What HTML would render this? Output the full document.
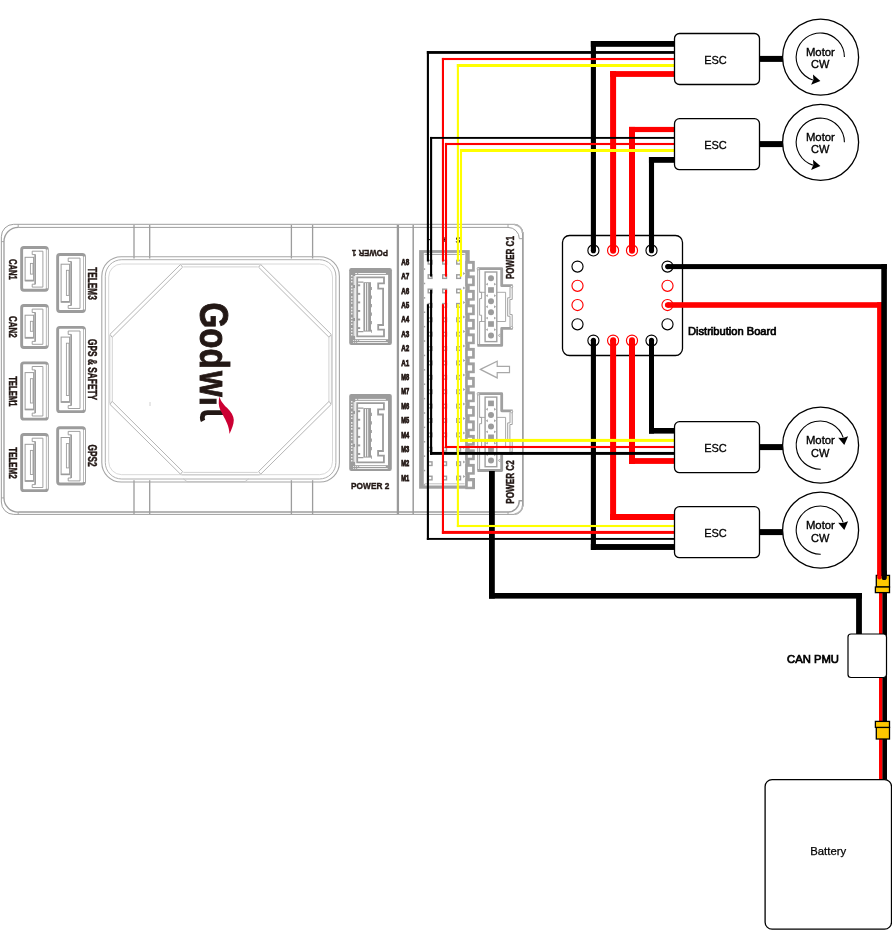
<!DOCTYPE html>
<html><head><meta charset="utf-8"><title>Wiring</title>
<style>html,body{margin:0;padding:0;background:#fff;}svg{display:block;will-change:transform;}text{font-family:"Liberation Sans", sans-serif;}</style></head><body>
<svg width="892" height="950" viewBox="0 0 892 950">
<rect x="0" y="0" width="892" height="950" fill="#fff"/>
<path d="M13.7 224.3 H514.5 A8.8 8.8 0 0 1 522.85 233.1 V505.6 A8.8 8.8 0 0 1 514.5 514.4 H13.7 A12.4 12.4 0 0 1 1.35 502 V236.7 A12.4 12.4 0 0 1 13.7 224.3 Z" fill="none" stroke="#9e9e9e" stroke-width="1.0" />
<path d="M522.85 232 V506.6" fill="none" stroke="#9e9e9e" stroke-width="1.5" />
<path d="M514.5 224.6 A8.6 8.6 0 0 1 522.5 233.1 M514.5 514.1 A8.6 8.6 0 0 0 522.5 505.6" fill="none" stroke="#b4b4b4" stroke-width="1.6" />
<path d="M18.2 227.4 H508 A11.3 11.3 0 0 1 519.3 238.7 H522.85" fill="none" stroke="#9e9e9e" stroke-width="1.0" />
<path d="M18.2 512.1 H508 A11.3 11.3 0 0 0 519.3 500.8 H522.85" fill="none" stroke="#9e9e9e" stroke-width="1.5" />
<path d="M18.2 227.4 A14.2 14.2 0 0 0 4.0 241.6 V497.9 A14.2 14.2 0 0 0 18.2 512.1" fill="none" stroke="#9e9e9e" stroke-width="1.3" />
<path d="M18.2 224.3 V227.4 M1.35 241.6 H4 M508 224.3 V227.4 M18.2 514.4 V512.1 M1.35 497.9 H4 M508 514.4 V512.1" fill="none" stroke="#9e9e9e" stroke-width="0.9" />
<path d="M134 225 V258.6 M134 480.2 V514" fill="none" stroke="#9c9c9c" stroke-width="1.3" />
<path d="M149.7 225 V258.6 M149.7 480.2 V514" fill="none" stroke="#9c9c9c" stroke-width="1.3" />
<path d="M291.4 225 V258.6 M291.4 480.2 V514" fill="none" stroke="#9c9c9c" stroke-width="1.3" />
<path d="M312.6 225 V258.6 M312.6 480.2 V514" fill="none" stroke="#9c9c9c" stroke-width="1.3" />
<path d="M397.9 225 V514" fill="none" stroke="#9a9a9a" stroke-width="2.3" />
<path d="M413.2 225 V514" fill="none" stroke="#9c9c9c" stroke-width="1.5" />
<rect x="101.80" y="256.70" width="237.60" height="225.30" rx="19.5" ry="19.5" fill="none" stroke="#a6a6a6" stroke-width="1.1" />
<rect x="105.30" y="259.70" width="230.60" height="219.30" rx="16.5" ry="16.5" fill="none" stroke="#b0b0b0" stroke-width="1.0" />
<rect x="108.70" y="264.00" width="223.80" height="210.70" rx="13" ry="13" fill="none" stroke="#d4d4d4" stroke-width="0.9" />
<path d="M110.0 334.3 L180.5 264.5" fill="none" stroke="#b6b6b6" stroke-width="1.0" />
<path d="M331.2 334.3 L260.7 264.5" fill="none" stroke="#b6b6b6" stroke-width="1.0" />
<path d="M110.0 404.4 L180.5 474.2" fill="none" stroke="#b6b6b6" stroke-width="1.0" />
<path d="M331.2 404.4 L260.7 474.2" fill="none" stroke="#b6b6b6" stroke-width="1.0" />
<path d="M112.1 337.4 L182.6 267.2" fill="none" stroke="#b6b6b6" stroke-width="1.0" />
<path d="M329.1 337.4 L258.6 267.2" fill="none" stroke="#b6b6b6" stroke-width="1.0" />
<path d="M112.1 401.3 L182.6 471.5" fill="none" stroke="#b6b6b6" stroke-width="1.0" />
<path d="M329.1 401.3 L258.6 471.5" fill="none" stroke="#b6b6b6" stroke-width="1.0" />
<path d="M110.0 334.3 L112.1 337.4 M180.5 264.5 L182.6 267.2" fill="none" stroke="#b6b6b6" stroke-width="1.0" />
<path d="M331.2 334.3 L329.1 337.4 M260.7 264.5 L258.6 267.2" fill="none" stroke="#b6b6b6" stroke-width="1.0" />
<path d="M110.0 404.4 L112.1 401.3 M180.5 474.2 L182.6 471.5" fill="none" stroke="#b6b6b6" stroke-width="1.0" />
<path d="M331.2 404.4 L329.1 401.3 M260.7 474.2 L258.6 471.5" fill="none" stroke="#b6b6b6" stroke-width="1.0" />
<path d="M181.5 264.3 H259.7 M181.5 474.9 H259.7 M109.8 335 V403.7 M331.4 335 V403.7" fill="none" stroke="#c6c6c6" stroke-width="0.9" />
<path d="M183.4 266.9 H257.8 M183.4 472.4 H257.8 M112.3 337.6 V401.1 M328.9 337.6 V401.1" fill="none" stroke="#cdcdcd" stroke-width="0.9" />
<path d="M183.3 478.8 L187 481.6 H245 L248.8 478.8" fill="none" stroke="#c0c0c0" stroke-width="0.8" />
<path d="M150 402 V406" fill="none" stroke="#c4c4c4" stroke-width="0.8" />
<g transform="translate(199.6 303.6) rotate(90)">
<text x="-1.2" y="0" font-size="41" font-weight="bold" fill="#231815" stroke="#231815" stroke-width="0.9" textLength="66.4" lengthAdjust="spacingAndGlyphs">God</text>
<text x="67.4" y="0" font-size="41" font-weight="bold" fill="#231815" stroke="#231815" stroke-width="0.9" textLength="34.8" lengthAdjust="spacingAndGlyphs">w&#305;</text>
</g>
<path d="M223 412.55 H207.6 Q202.3 412.55 202.3 417.4 Q202.3 419.4 203.1 420.9" fill="none" stroke="#231815" stroke-width="4.8"/>
<rect x="216.6" y="398" width="8" height="7.4" fill="#fff"/>
<path d="M219.5 396.4 C220.4 400 222.1 402.9 227 407.8 C231 411.8 233.8 416 233.8 420.1 C233.8 425 231.5 429.5 229.5 434 C229.3 430 228.5 426.5 227 423.2 C225 418.5 221.8 413 220.2 409.7 C218.5 406 218.3 401 219.5 396.4 Z" fill="#cc0033"/>
<rect x="21.65" y="247.55" width="25.70" height="42.70" rx="2.2" ry="2.2" fill="none" stroke="#9c9c9c" stroke-width="2.9" />
<path d="M47.25 249.50 V288.30" fill="none" stroke="#fff" stroke-width="1.3" />
<path d="M32.20 251.20 H42.90 V287.10 H32.20 V284.20 H35.20 V254.60 H32.20 Z" fill="none" stroke="#9c9c9c" stroke-width="0.95" />
<path d="M35.20 254.60 V284.20" fill="none" stroke="#9c9c9c" stroke-width="1.5" />
<rect x="25.10" y="257.30" width="8.50" height="23.50" rx="0" ry="0" fill="#fff" stroke="#9c9c9c" stroke-width="1.0" />
<path d="M25.10 280.50 H33.60" fill="none" stroke="#9c9c9c" stroke-width="1.6" />
<rect x="30.40" y="263.40" width="2.60" height="10.70" rx="0" ry="0" fill="none" stroke="#9c9c9c" stroke-width="0.9" />
<rect x="21.65" y="305.45" width="25.70" height="42.00" rx="2.2" ry="2.2" fill="none" stroke="#9c9c9c" stroke-width="2.9" />
<path d="M47.25 307.40 V345.50" fill="none" stroke="#fff" stroke-width="1.3" />
<path d="M32.20 309.10 H42.90 V344.30 H32.20 V341.40 H35.20 V312.50 H32.20 Z" fill="none" stroke="#9c9c9c" stroke-width="0.95" />
<path d="M35.20 312.50 V341.40" fill="none" stroke="#9c9c9c" stroke-width="1.5" />
<rect x="25.10" y="315.20" width="8.50" height="22.80" rx="0" ry="0" fill="#fff" stroke="#9c9c9c" stroke-width="1.0" />
<path d="M25.10 337.70 H33.60" fill="none" stroke="#9c9c9c" stroke-width="1.6" />
<rect x="30.40" y="321.30" width="2.60" height="10.00" rx="0" ry="0" fill="none" stroke="#9c9c9c" stroke-width="0.9" />
<rect x="21.65" y="362.85" width="25.70" height="56.30" rx="2.2" ry="2.2" fill="none" stroke="#9c9c9c" stroke-width="2.9" />
<path d="M47.25 364.80 V417.20" fill="none" stroke="#fff" stroke-width="1.3" />
<path d="M32.20 366.50 H42.90 V416.00 H32.20 V413.10 H35.20 V369.90 H32.20 Z" fill="none" stroke="#9c9c9c" stroke-width="0.95" />
<path d="M35.20 369.90 V413.10" fill="none" stroke="#9c9c9c" stroke-width="1.5" />
<rect x="25.10" y="372.60" width="8.50" height="37.10" rx="0" ry="0" fill="#fff" stroke="#9c9c9c" stroke-width="1.0" />
<path d="M25.10 409.40 H33.60" fill="none" stroke="#9c9c9c" stroke-width="1.6" />
<rect x="30.40" y="378.70" width="2.60" height="24.30" rx="0" ry="0" fill="none" stroke="#9c9c9c" stroke-width="0.9" />
<rect x="21.65" y="434.55" width="25.70" height="56.10" rx="2.2" ry="2.2" fill="none" stroke="#9c9c9c" stroke-width="2.9" />
<path d="M47.25 436.50 V488.70" fill="none" stroke="#fff" stroke-width="1.3" />
<path d="M32.20 438.20 H42.90 V487.50 H32.20 V484.60 H35.20 V441.60 H32.20 Z" fill="none" stroke="#9c9c9c" stroke-width="0.95" />
<path d="M35.20 441.60 V484.60" fill="none" stroke="#9c9c9c" stroke-width="1.5" />
<rect x="25.10" y="444.30" width="8.50" height="36.90" rx="0" ry="0" fill="#fff" stroke="#9c9c9c" stroke-width="1.0" />
<path d="M25.10 480.90 H33.60" fill="none" stroke="#9c9c9c" stroke-width="1.6" />
<rect x="30.40" y="450.40" width="2.60" height="24.10" rx="0" ry="0" fill="none" stroke="#9c9c9c" stroke-width="0.9" />
<rect x="57.65" y="254.45" width="26.80" height="57.10" rx="2.2" ry="2.2" fill="none" stroke="#9c9c9c" stroke-width="2.9" />
<path d="M84.35 256.40 V309.60" fill="none" stroke="#fff" stroke-width="1.3" />
<path d="M68.20 258.10 H80.00 V308.40 H68.20 V305.50 H71.20 V261.50 H68.20 Z" fill="none" stroke="#9c9c9c" stroke-width="0.95" />
<path d="M71.20 261.50 V305.50" fill="none" stroke="#9c9c9c" stroke-width="1.5" />
<rect x="61.10" y="264.20" width="8.50" height="37.90" rx="0" ry="0" fill="#fff" stroke="#9c9c9c" stroke-width="1.0" />
<path d="M61.10 301.80 H69.60" fill="none" stroke="#9c9c9c" stroke-width="1.6" />
<rect x="66.40" y="270.30" width="2.60" height="25.10" rx="0" ry="0" fill="none" stroke="#9c9c9c" stroke-width="0.9" />
<rect x="57.65" y="327.35" width="26.80" height="84.30" rx="2.2" ry="2.2" fill="none" stroke="#9c9c9c" stroke-width="2.9" />
<path d="M84.35 329.30 V409.70" fill="none" stroke="#fff" stroke-width="1.3" />
<path d="M68.20 331.00 H80.00 V408.50 H68.20 V405.60 H71.20 V334.40 H68.20 Z" fill="none" stroke="#9c9c9c" stroke-width="0.95" />
<path d="M71.20 334.40 V405.60" fill="none" stroke="#9c9c9c" stroke-width="1.5" />
<rect x="61.10" y="337.10" width="8.50" height="65.10" rx="0" ry="0" fill="#fff" stroke="#9c9c9c" stroke-width="1.0" />
<path d="M61.10 401.90 H69.60" fill="none" stroke="#9c9c9c" stroke-width="1.6" />
<rect x="66.40" y="343.20" width="2.60" height="52.30" rx="0" ry="0" fill="none" stroke="#9c9c9c" stroke-width="0.9" />
<rect x="57.65" y="427.75" width="26.80" height="56.30" rx="2.2" ry="2.2" fill="none" stroke="#9c9c9c" stroke-width="2.9" />
<path d="M84.35 429.70 V482.10" fill="none" stroke="#fff" stroke-width="1.3" />
<path d="M68.20 431.40 H80.00 V480.90 H68.20 V478.00 H71.20 V434.80 H68.20 Z" fill="none" stroke="#9c9c9c" stroke-width="0.95" />
<path d="M71.20 434.80 V478.00" fill="none" stroke="#9c9c9c" stroke-width="1.5" />
<rect x="61.10" y="437.50" width="8.50" height="37.10" rx="0" ry="0" fill="#fff" stroke="#9c9c9c" stroke-width="1.0" />
<path d="M61.10 474.30 H69.60" fill="none" stroke="#9c9c9c" stroke-width="1.6" />
<rect x="66.40" y="443.60" width="2.60" height="24.30" rx="0" ry="0" fill="none" stroke="#9c9c9c" stroke-width="0.9" />
<g transform="translate(8.8 269.4) rotate(90)"><text x="0" y="0" font-size="11.2" font-weight="bold" fill="#231815" stroke="#231815" stroke-width="0.45" text-anchor="middle" textLength="21" lengthAdjust="spacingAndGlyphs">CAN1</text></g>
<g transform="translate(8.8 326.8) rotate(90)"><text x="0" y="0" font-size="11.2" font-weight="bold" fill="#231815" stroke="#231815" stroke-width="0.45" text-anchor="middle" textLength="21.5" lengthAdjust="spacingAndGlyphs">CAN2</text></g>
<g transform="translate(8.8 391.4) rotate(90)"><text x="0" y="0" font-size="11.2" font-weight="bold" fill="#231815" stroke="#231815" stroke-width="0.45" text-anchor="middle" textLength="30.5" lengthAdjust="spacingAndGlyphs">TELEM1</text></g>
<g transform="translate(8.8 463) rotate(90)"><text x="0" y="0" font-size="11.2" font-weight="bold" fill="#231815" stroke="#231815" stroke-width="0.45" text-anchor="middle" textLength="31.5" lengthAdjust="spacingAndGlyphs">TELEM2</text></g>
<g transform="translate(88.4 283.5) rotate(90)"><text x="0" y="0" font-size="12.4" font-weight="bold" fill="#231815" stroke="#231815" stroke-width="0.45" text-anchor="middle" textLength="32.6" lengthAdjust="spacingAndGlyphs">TELEM3</text></g>
<g transform="translate(88.4 369.6) rotate(90)"><text x="0" y="0" font-size="12.4" font-weight="bold" fill="#231815" stroke="#231815" stroke-width="0.45" text-anchor="middle" textLength="61" lengthAdjust="spacingAndGlyphs">GPS &amp; SAFETY</text></g>
<g transform="translate(88.4 455.6) rotate(90)"><text x="0" y="0" font-size="12.4" font-weight="bold" fill="#231815" stroke="#231815" stroke-width="0.45" text-anchor="middle" textLength="22" lengthAdjust="spacingAndGlyphs">GPS2</text></g>
<rect x="349.20" y="268.00" width="42.70" height="76.90" rx="2.2" ry="2.2" fill="#9c9c9c"/>
<rect x="355.20" y="274.90" width="32.90" height="64.30" fill="#fff"/>
<path d="M351.80 275.00 V337.90" fill="none" stroke="#fff" stroke-width="1.2" stroke-dasharray="1.6 1.4 1.6 1.4 1.6 3.0"/>
<path d="M354.20 276.00 V335.90" fill="none" stroke="#fff" stroke-width="1.0" stroke-dasharray="9 3 30 3 9 0"/>
<path d="M355.20 273.50 H385.90" fill="none" stroke="#fff" stroke-width="0.9" stroke-dasharray="2 1 28 0"/>
<path d="M353.20 340.50 H385.90" fill="none" stroke="#fff" stroke-width="0.9" stroke-dasharray="1 1 1 1 1 1 28 0"/>
<path d="M353.20 342.50 H387.90" fill="none" stroke="#fff" stroke-width="0.8" stroke-dasharray="1 1 1 1 30 0"/>
<path d="M357.20 277.30 H384.00 V283.40 H378.20 V288.60 H383.10 V325.00 H378.20 V329.70 H384.00 V336.40 H357.20 Z" fill="none" stroke="#9c9c9c" stroke-width="1.8" />
<rect x="363.40" y="282.20" width="7.6" height="49.40" fill="#9c9c9c"/>
<path d="M365.50 283.10 V330.60 M367.70 283.10 V330.60" fill="none" stroke="#fff" stroke-width="0.9" />
<path d="M358.10 282.20 H363.40 M358.10 331.60 H363.40" fill="none" stroke="#9c9c9c" stroke-width="1.2" />
<path d="M357.80 285.30 h2.4" fill="none" stroke="#9c9c9c" stroke-width="1.9" />
<path d="M371.00 288.50 h0.9" fill="none" stroke="#9c9c9c" stroke-width="3.2" />
<path d="M357.80 293.85 h2.4" fill="none" stroke="#9c9c9c" stroke-width="1.9" />
<path d="M371.00 297.05 h0.9" fill="none" stroke="#9c9c9c" stroke-width="3.2" />
<path d="M357.80 302.40 h2.4" fill="none" stroke="#9c9c9c" stroke-width="1.9" />
<path d="M371.00 305.60 h0.9" fill="none" stroke="#9c9c9c" stroke-width="3.2" />
<path d="M357.80 310.95 h2.4" fill="none" stroke="#9c9c9c" stroke-width="1.9" />
<path d="M371.00 314.15 h0.9" fill="none" stroke="#9c9c9c" stroke-width="3.2" />
<path d="M357.80 319.50 h2.4" fill="none" stroke="#9c9c9c" stroke-width="1.9" />
<path d="M371.00 322.70 h0.9" fill="none" stroke="#9c9c9c" stroke-width="3.2" />
<path d="M357.80 328.05 h2.4" fill="none" stroke="#9c9c9c" stroke-width="1.9" />
<path d="M371.00 331.25 h0.9" fill="none" stroke="#9c9c9c" stroke-width="3.2" />
<rect x="349.20" y="393.90" width="42.60" height="77.00" rx="2.2" ry="2.2" fill="#9c9c9c"/>
<rect x="355.20" y="400.80" width="32.80" height="64.40" fill="#fff"/>
<path d="M351.80 400.90 V463.90" fill="none" stroke="#fff" stroke-width="1.2" stroke-dasharray="1.6 1.4 1.6 1.4 1.6 3.0"/>
<path d="M354.20 401.90 V461.90" fill="none" stroke="#fff" stroke-width="1.0" stroke-dasharray="9 3 30 3 9 0"/>
<path d="M355.20 399.40 H385.80" fill="none" stroke="#fff" stroke-width="0.9" stroke-dasharray="2 1 28 0"/>
<path d="M353.20 466.50 H385.80" fill="none" stroke="#fff" stroke-width="0.9" stroke-dasharray="1 1 1 1 1 1 28 0"/>
<path d="M353.20 468.50 H387.80" fill="none" stroke="#fff" stroke-width="0.8" stroke-dasharray="1 1 1 1 30 0"/>
<path d="M357.20 403.20 H383.90 V409.30 H378.10 V414.50 H383.00 V451.00 H378.10 V455.70 H383.90 V462.40 H357.20 Z" fill="none" stroke="#9c9c9c" stroke-width="1.8" />
<rect x="363.40" y="408.10" width="7.6" height="49.50" fill="#9c9c9c"/>
<path d="M365.50 409.00 V456.60 M367.70 409.00 V456.60" fill="none" stroke="#fff" stroke-width="0.9" />
<path d="M358.10 408.10 H363.40 M358.10 457.60 H363.40" fill="none" stroke="#9c9c9c" stroke-width="1.2" />
<path d="M357.80 411.20 h2.4" fill="none" stroke="#9c9c9c" stroke-width="1.9" />
<path d="M371.00 414.40 h0.9" fill="none" stroke="#9c9c9c" stroke-width="3.2" />
<path d="M357.80 419.75 h2.4" fill="none" stroke="#9c9c9c" stroke-width="1.9" />
<path d="M371.00 422.95 h0.9" fill="none" stroke="#9c9c9c" stroke-width="3.2" />
<path d="M357.80 428.30 h2.4" fill="none" stroke="#9c9c9c" stroke-width="1.9" />
<path d="M371.00 431.50 h0.9" fill="none" stroke="#9c9c9c" stroke-width="3.2" />
<path d="M357.80 436.85 h2.4" fill="none" stroke="#9c9c9c" stroke-width="1.9" />
<path d="M371.00 440.05 h0.9" fill="none" stroke="#9c9c9c" stroke-width="3.2" />
<path d="M357.80 445.40 h2.4" fill="none" stroke="#9c9c9c" stroke-width="1.9" />
<path d="M371.00 448.60 h0.9" fill="none" stroke="#9c9c9c" stroke-width="3.2" />
<path d="M357.80 453.95 h2.4" fill="none" stroke="#9c9c9c" stroke-width="1.9" />
<path d="M371.00 457.15 h0.9" fill="none" stroke="#9c9c9c" stroke-width="3.2" />
<g transform="translate(370 253.3) rotate(180)"><text x="0" y="3.3" font-size="9.4" font-weight="bold" fill="#231815" stroke="#231815" stroke-width="0.4" text-anchor="middle" textLength="36" lengthAdjust="spacingAndGlyphs">POWER 1</text></g>
<text x="370.2" y="488.8" font-size="9.6" font-weight="bold" fill="#231815" stroke="#231815" stroke-width="0.4" text-anchor="middle" textLength="38.2" lengthAdjust="spacingAndGlyphs">POWER 2</text>
<text x="405.2" y="264.90" font-size="8.4" font-weight="bold" fill="#231815" text-anchor="middle" textLength="8.0" lengthAdjust="spacingAndGlyphs" stroke="#231815" stroke-width="0.75">A8</text>
<text x="405.2" y="279.29" font-size="8.4" font-weight="bold" fill="#231815" text-anchor="middle" textLength="8.0" lengthAdjust="spacingAndGlyphs" stroke="#231815" stroke-width="0.75">A7</text>
<text x="405.2" y="293.68" font-size="8.4" font-weight="bold" fill="#231815" text-anchor="middle" textLength="8.0" lengthAdjust="spacingAndGlyphs" stroke="#231815" stroke-width="0.75">A6</text>
<text x="405.2" y="308.07" font-size="8.4" font-weight="bold" fill="#231815" text-anchor="middle" textLength="8.0" lengthAdjust="spacingAndGlyphs" stroke="#231815" stroke-width="0.75">A5</text>
<text x="405.2" y="322.46" font-size="8.4" font-weight="bold" fill="#231815" text-anchor="middle" textLength="8.0" lengthAdjust="spacingAndGlyphs" stroke="#231815" stroke-width="0.75">A4</text>
<text x="405.2" y="336.85" font-size="8.4" font-weight="bold" fill="#231815" text-anchor="middle" textLength="8.0" lengthAdjust="spacingAndGlyphs" stroke="#231815" stroke-width="0.75">A3</text>
<text x="405.2" y="351.24" font-size="8.4" font-weight="bold" fill="#231815" text-anchor="middle" textLength="8.0" lengthAdjust="spacingAndGlyphs" stroke="#231815" stroke-width="0.75">A2</text>
<text x="405.2" y="365.63" font-size="8.4" font-weight="bold" fill="#231815" text-anchor="middle" textLength="8.0" lengthAdjust="spacingAndGlyphs" stroke="#231815" stroke-width="0.75">A1</text>
<text x="405.2" y="380.02" font-size="8.4" font-weight="bold" fill="#231815" text-anchor="middle" textLength="8.0" lengthAdjust="spacingAndGlyphs" stroke="#231815" stroke-width="0.75">M8</text>
<text x="405.2" y="394.41" font-size="8.4" font-weight="bold" fill="#231815" text-anchor="middle" textLength="8.0" lengthAdjust="spacingAndGlyphs" stroke="#231815" stroke-width="0.75">M7</text>
<text x="405.2" y="408.80" font-size="8.4" font-weight="bold" fill="#231815" text-anchor="middle" textLength="8.0" lengthAdjust="spacingAndGlyphs" stroke="#231815" stroke-width="0.75">M6</text>
<text x="405.2" y="423.19" font-size="8.4" font-weight="bold" fill="#231815" text-anchor="middle" textLength="8.0" lengthAdjust="spacingAndGlyphs" stroke="#231815" stroke-width="0.75">M5</text>
<text x="405.2" y="437.58" font-size="8.4" font-weight="bold" fill="#231815" text-anchor="middle" textLength="8.0" lengthAdjust="spacingAndGlyphs" stroke="#231815" stroke-width="0.75">M4</text>
<text x="405.2" y="451.97" font-size="8.4" font-weight="bold" fill="#231815" text-anchor="middle" textLength="8.0" lengthAdjust="spacingAndGlyphs" stroke="#231815" stroke-width="0.75">M3</text>
<text x="405.2" y="466.36" font-size="8.4" font-weight="bold" fill="#231815" text-anchor="middle" textLength="8.0" lengthAdjust="spacingAndGlyphs" stroke="#231815" stroke-width="0.75">M2</text>
<text x="405.2" y="480.75" font-size="8.4" font-weight="bold" fill="#231815" text-anchor="middle" textLength="8.0" lengthAdjust="spacingAndGlyphs" stroke="#231815" stroke-width="0.75">M1</text>
<rect x="419.1" y="250.1" width="50.6" height="238.6" fill="#a0a0a0"/>
<rect x="423.8" y="252.9" width="41.5" height="232.6" fill="#fff"/>
<path d="M424.6 254.4 H464.6" fill="none" stroke="#a0a0a0" stroke-width="1.0" />
<path d="M424.6 483.8 H464.6" fill="none" stroke="#b8b8b8" stroke-width="0.9" />
<rect x="469.7" y="478" width="5.3" height="10.7" fill="#a0a0a0"/>
<rect x="465.3" y="260.90" width="9.5" height="10.8" fill="#a0a0a0"/>
<rect x="467.8" y="263.80" width="4.3" height="5.4" fill="#fff"/>
<path d="M465.3 273.50 l-2.2 -1.6 v3.2 Z" fill="#a0a0a0"/>
<rect x="465.3" y="275.40" width="9.5" height="10.8" fill="#a0a0a0"/>
<rect x="467.8" y="278.30" width="4.3" height="5.4" fill="#fff"/>
<path d="M465.3 288.00 l-2.2 -1.6 v3.2 Z" fill="#a0a0a0"/>
<rect x="465.3" y="289.90" width="9.5" height="10.8" fill="#a0a0a0"/>
<rect x="467.8" y="292.80" width="4.3" height="5.4" fill="#fff"/>
<path d="M465.3 302.50 l-2.2 -1.6 v3.2 Z" fill="#a0a0a0"/>
<rect x="465.3" y="304.40" width="9.5" height="10.8" fill="#a0a0a0"/>
<rect x="467.8" y="307.30" width="4.3" height="5.4" fill="#fff"/>
<path d="M465.3 317.00 l-2.2 -1.6 v3.2 Z" fill="#a0a0a0"/>
<rect x="465.3" y="318.90" width="9.5" height="10.8" fill="#a0a0a0"/>
<rect x="467.8" y="321.80" width="4.3" height="5.4" fill="#fff"/>
<path d="M465.3 331.50 l-2.2 -1.6 v3.2 Z" fill="#a0a0a0"/>
<rect x="465.3" y="333.40" width="9.5" height="10.8" fill="#a0a0a0"/>
<rect x="467.8" y="336.30" width="4.3" height="5.4" fill="#fff"/>
<path d="M465.3 346.00 l-2.2 -1.6 v3.2 Z" fill="#a0a0a0"/>
<rect x="465.3" y="347.90" width="9.5" height="10.8" fill="#a0a0a0"/>
<rect x="467.8" y="350.80" width="4.3" height="5.4" fill="#fff"/>
<path d="M465.3 360.50 l-2.2 -1.6 v3.2 Z" fill="#a0a0a0"/>
<rect x="465.3" y="362.40" width="9.5" height="10.8" fill="#a0a0a0"/>
<rect x="467.8" y="365.30" width="4.3" height="5.4" fill="#fff"/>
<path d="M465.3 375.00 l-2.2 -1.6 v3.2 Z" fill="#a0a0a0"/>
<rect x="465.3" y="376.90" width="9.5" height="10.8" fill="#a0a0a0"/>
<rect x="467.8" y="379.80" width="4.3" height="5.4" fill="#fff"/>
<path d="M465.3 389.50 l-2.2 -1.6 v3.2 Z" fill="#a0a0a0"/>
<rect x="465.3" y="391.40" width="9.5" height="10.8" fill="#a0a0a0"/>
<rect x="467.8" y="394.30" width="4.3" height="5.4" fill="#fff"/>
<path d="M465.3 404.00 l-2.2 -1.6 v3.2 Z" fill="#a0a0a0"/>
<rect x="465.3" y="405.90" width="9.5" height="10.8" fill="#a0a0a0"/>
<rect x="467.8" y="408.80" width="4.3" height="5.4" fill="#fff"/>
<path d="M465.3 418.50 l-2.2 -1.6 v3.2 Z" fill="#a0a0a0"/>
<rect x="465.3" y="420.40" width="9.5" height="10.8" fill="#a0a0a0"/>
<rect x="467.8" y="423.30" width="4.3" height="5.4" fill="#fff"/>
<path d="M465.3 433.00 l-2.2 -1.6 v3.2 Z" fill="#a0a0a0"/>
<rect x="465.3" y="434.90" width="9.5" height="10.8" fill="#a0a0a0"/>
<rect x="467.8" y="437.80" width="4.3" height="5.4" fill="#fff"/>
<path d="M465.3 447.50 l-2.2 -1.6 v3.2 Z" fill="#a0a0a0"/>
<rect x="465.3" y="449.40" width="9.5" height="10.8" fill="#a0a0a0"/>
<rect x="467.8" y="452.30" width="4.3" height="5.4" fill="#fff"/>
<path d="M465.3 462.00 l-2.2 -1.6 v3.2 Z" fill="#a0a0a0"/>
<rect x="465.3" y="463.90" width="9.5" height="10.8" fill="#a0a0a0"/>
<rect x="467.8" y="466.80" width="4.3" height="5.4" fill="#fff"/>
<path d="M465.3 476.50 l-2.2 -1.6 v3.2 Z" fill="#a0a0a0"/>
<rect x="465.3" y="478.40" width="9.5" height="10.8" fill="#a0a0a0"/>
<rect x="467.8" y="481.30" width="4.3" height="5.4" fill="#fff"/>
<rect x="428.20" y="260.40" width="3.80" height="3.60" rx="0" ry="0" fill="#fff" stroke="#9e9e9e" stroke-width="1.4" />
<rect x="442.70" y="260.40" width="3.80" height="3.60" rx="0" ry="0" fill="#fff" stroke="#9e9e9e" stroke-width="1.4" />
<rect x="456.70" y="260.40" width="3.80" height="3.60" rx="0" ry="0" fill="#fff" stroke="#9e9e9e" stroke-width="1.4" />
<path d="M423.8 269.10 h1.4" fill="none" stroke="#a0a0a0" stroke-width="1.5" />
<rect x="428.20" y="274.79" width="3.80" height="3.60" rx="0" ry="0" fill="#fff" stroke="#9e9e9e" stroke-width="1.4" />
<rect x="442.70" y="274.79" width="3.80" height="3.60" rx="0" ry="0" fill="#fff" stroke="#9e9e9e" stroke-width="1.4" />
<rect x="456.70" y="274.79" width="3.80" height="3.60" rx="0" ry="0" fill="#fff" stroke="#9e9e9e" stroke-width="1.4" />
<path d="M423.8 283.49 h1.4" fill="none" stroke="#a0a0a0" stroke-width="1.5" />
<rect x="428.20" y="289.18" width="3.80" height="3.60" rx="0" ry="0" fill="#fff" stroke="#9e9e9e" stroke-width="1.4" />
<rect x="442.70" y="289.18" width="3.80" height="3.60" rx="0" ry="0" fill="#fff" stroke="#9e9e9e" stroke-width="1.4" />
<rect x="456.70" y="289.18" width="3.80" height="3.60" rx="0" ry="0" fill="#fff" stroke="#9e9e9e" stroke-width="1.4" />
<path d="M423.8 297.88 h1.4" fill="none" stroke="#a0a0a0" stroke-width="1.5" />
<rect x="428.20" y="303.57" width="3.80" height="3.60" rx="0" ry="0" fill="#fff" stroke="#9e9e9e" stroke-width="1.4" />
<rect x="442.70" y="303.57" width="3.80" height="3.60" rx="0" ry="0" fill="#fff" stroke="#9e9e9e" stroke-width="1.4" />
<rect x="456.70" y="303.57" width="3.80" height="3.60" rx="0" ry="0" fill="#fff" stroke="#9e9e9e" stroke-width="1.4" />
<path d="M423.8 312.27 h1.4" fill="none" stroke="#a0a0a0" stroke-width="1.5" />
<rect x="428.20" y="317.96" width="3.80" height="3.60" rx="0" ry="0" fill="#fff" stroke="#9e9e9e" stroke-width="1.4" />
<rect x="442.70" y="317.96" width="3.80" height="3.60" rx="0" ry="0" fill="#fff" stroke="#9e9e9e" stroke-width="1.4" />
<rect x="456.70" y="317.96" width="3.80" height="3.60" rx="0" ry="0" fill="#fff" stroke="#9e9e9e" stroke-width="1.4" />
<path d="M423.8 326.66 h1.4" fill="none" stroke="#a0a0a0" stroke-width="1.5" />
<rect x="428.20" y="332.35" width="3.80" height="3.60" rx="0" ry="0" fill="#fff" stroke="#9e9e9e" stroke-width="1.4" />
<rect x="442.70" y="332.35" width="3.80" height="3.60" rx="0" ry="0" fill="#fff" stroke="#9e9e9e" stroke-width="1.4" />
<rect x="456.70" y="332.35" width="3.80" height="3.60" rx="0" ry="0" fill="#fff" stroke="#9e9e9e" stroke-width="1.4" />
<path d="M423.8 341.05 h1.4" fill="none" stroke="#a0a0a0" stroke-width="1.5" />
<rect x="428.20" y="346.74" width="3.80" height="3.60" rx="0" ry="0" fill="#fff" stroke="#9e9e9e" stroke-width="1.4" />
<rect x="442.70" y="346.74" width="3.80" height="3.60" rx="0" ry="0" fill="#fff" stroke="#9e9e9e" stroke-width="1.4" />
<rect x="456.70" y="346.74" width="3.80" height="3.60" rx="0" ry="0" fill="#fff" stroke="#9e9e9e" stroke-width="1.4" />
<path d="M423.8 355.44 h1.4" fill="none" stroke="#a0a0a0" stroke-width="1.5" />
<rect x="428.20" y="361.13" width="3.80" height="3.60" rx="0" ry="0" fill="#fff" stroke="#9e9e9e" stroke-width="1.4" />
<rect x="442.70" y="361.13" width="3.80" height="3.60" rx="0" ry="0" fill="#fff" stroke="#9e9e9e" stroke-width="1.4" />
<rect x="456.70" y="361.13" width="3.80" height="3.60" rx="0" ry="0" fill="#fff" stroke="#9e9e9e" stroke-width="1.4" />
<path d="M423.8 369.83 h1.4" fill="none" stroke="#a0a0a0" stroke-width="1.5" />
<rect x="428.20" y="375.52" width="3.80" height="3.60" rx="0" ry="0" fill="#fff" stroke="#9e9e9e" stroke-width="1.4" />
<rect x="442.70" y="375.52" width="3.80" height="3.60" rx="0" ry="0" fill="#fff" stroke="#9e9e9e" stroke-width="1.4" />
<rect x="456.70" y="375.52" width="3.80" height="3.60" rx="0" ry="0" fill="#fff" stroke="#9e9e9e" stroke-width="1.4" />
<path d="M423.8 384.22 h1.4" fill="none" stroke="#a0a0a0" stroke-width="1.5" />
<rect x="428.20" y="389.91" width="3.80" height="3.60" rx="0" ry="0" fill="#fff" stroke="#9e9e9e" stroke-width="1.4" />
<rect x="442.70" y="389.91" width="3.80" height="3.60" rx="0" ry="0" fill="#fff" stroke="#9e9e9e" stroke-width="1.4" />
<rect x="456.70" y="389.91" width="3.80" height="3.60" rx="0" ry="0" fill="#fff" stroke="#9e9e9e" stroke-width="1.4" />
<path d="M423.8 398.61 h1.4" fill="none" stroke="#a0a0a0" stroke-width="1.5" />
<rect x="428.20" y="404.30" width="3.80" height="3.60" rx="0" ry="0" fill="#fff" stroke="#9e9e9e" stroke-width="1.4" />
<rect x="442.70" y="404.30" width="3.80" height="3.60" rx="0" ry="0" fill="#fff" stroke="#9e9e9e" stroke-width="1.4" />
<rect x="456.70" y="404.30" width="3.80" height="3.60" rx="0" ry="0" fill="#fff" stroke="#9e9e9e" stroke-width="1.4" />
<path d="M423.8 413.00 h1.4" fill="none" stroke="#a0a0a0" stroke-width="1.5" />
<rect x="428.20" y="418.69" width="3.80" height="3.60" rx="0" ry="0" fill="#fff" stroke="#9e9e9e" stroke-width="1.4" />
<rect x="442.70" y="418.69" width="3.80" height="3.60" rx="0" ry="0" fill="#fff" stroke="#9e9e9e" stroke-width="1.4" />
<rect x="456.70" y="418.69" width="3.80" height="3.60" rx="0" ry="0" fill="#fff" stroke="#9e9e9e" stroke-width="1.4" />
<path d="M423.8 427.39 h1.4" fill="none" stroke="#a0a0a0" stroke-width="1.5" />
<rect x="428.20" y="433.08" width="3.80" height="3.60" rx="0" ry="0" fill="#fff" stroke="#9e9e9e" stroke-width="1.4" />
<rect x="442.70" y="433.08" width="3.80" height="3.60" rx="0" ry="0" fill="#fff" stroke="#9e9e9e" stroke-width="1.4" />
<rect x="456.70" y="433.08" width="3.80" height="3.60" rx="0" ry="0" fill="#fff" stroke="#9e9e9e" stroke-width="1.4" />
<path d="M423.8 441.78 h1.4" fill="none" stroke="#a0a0a0" stroke-width="1.5" />
<rect x="428.20" y="447.47" width="3.80" height="3.60" rx="0" ry="0" fill="#fff" stroke="#9e9e9e" stroke-width="1.4" />
<rect x="442.70" y="447.47" width="3.80" height="3.60" rx="0" ry="0" fill="#fff" stroke="#9e9e9e" stroke-width="1.4" />
<rect x="456.70" y="447.47" width="3.80" height="3.60" rx="0" ry="0" fill="#fff" stroke="#9e9e9e" stroke-width="1.4" />
<path d="M423.8 456.17 h1.4" fill="none" stroke="#a0a0a0" stroke-width="1.5" />
<rect x="428.20" y="461.86" width="3.80" height="3.60" rx="0" ry="0" fill="#fff" stroke="#9e9e9e" stroke-width="1.4" />
<rect x="442.70" y="461.86" width="3.80" height="3.60" rx="0" ry="0" fill="#fff" stroke="#9e9e9e" stroke-width="1.4" />
<rect x="456.70" y="461.86" width="3.80" height="3.60" rx="0" ry="0" fill="#fff" stroke="#9e9e9e" stroke-width="1.4" />
<path d="M423.8 470.56 h1.4" fill="none" stroke="#a0a0a0" stroke-width="1.5" />
<rect x="428.20" y="476.25" width="3.80" height="3.60" rx="0" ry="0" fill="#fff" stroke="#9e9e9e" stroke-width="1.4" />
<rect x="442.70" y="476.25" width="3.80" height="3.60" rx="0" ry="0" fill="#fff" stroke="#9e9e9e" stroke-width="1.4" />
<rect x="456.70" y="476.25" width="3.80" height="3.60" rx="0" ry="0" fill="#fff" stroke="#9e9e9e" stroke-width="1.4" />
<path d="M423.8 484.95 h1.4" fill="none" stroke="#a0a0a0" stroke-width="1.5" />
<text x="429.6" y="242.4" font-size="9.6" font-weight="bold" fill="#231815" text-anchor="middle">-</text>
<text x="444.4" y="242.8" font-size="9.6" font-weight="bold" fill="#231815" text-anchor="middle" textLength="4.6" lengthAdjust="spacingAndGlyphs">+</text>
<text x="458.0" y="242.8" font-size="9.6" font-weight="bold" fill="#231815" text-anchor="middle" textLength="5.0" lengthAdjust="spacingAndGlyphs">S</text>
<g transform="translate(0 267.2)">
<path d="M477.7 1.4 H501.7 V18.5 H512.2 V61.6 H501.7 V78.2 H477.7 Z" fill="#fff" stroke="none"/>
<path d="M477.7 1.4 V78.2 M479.6 2.8 V25.1 H481.6 V31.4 H479.6 V48 H481.6 V54.3 H479.6 V76.8" fill="none" stroke="#a0a0a0" stroke-width="1.0"/>
<path d="M512.2 18.5 V32.2 H509.9 V47.4 H512.2 V61.6 M510 20 V30.6 H507.7 V49 H510 V60.2" fill="none" stroke="#a0a0a0" stroke-width="1.0"/>
<path d="M477.4 1.4 H501.7 V18.5 H512.7" fill="none" stroke="#a0a0a0" stroke-width="2.8" stroke-linejoin="round"/>
<path d="M512.7 61.2 H501.7 V78.2 H477.4" fill="none" stroke="#a0a0a0" stroke-width="2.8" stroke-linejoin="round"/>
<circle cx="478.2" cy="1.6" r="1.1" fill="#fff" stroke="#a0a0a0" stroke-width="0.8"/>
<circle cx="511.6" cy="19.4" r="1.1" fill="#fff" stroke="#a0a0a0" stroke-width="0.8"/>
<circle cx="511.6" cy="60.4" r="1.1" fill="#fff" stroke="#a0a0a0" stroke-width="0.8"/>
<path d="M479.6 25.1 H505.6 V54.3 H479.6" fill="none" stroke="#a0a0a0" stroke-width="0.9"/>
<rect x="485.1" y="4.8" width="11.7" height="69.6" fill="#fff" stroke="#a0a0a0" stroke-width="1.4"/>
<circle cx="491.0" cy="11.10" r="3.0" fill="#9c9c9c"/>
<path d="M485.8 16.95 l2 -1.4 v2.8 Z M496.1 16.95 l-2 -1.4 v2.8 Z" fill="#a0a0a0"/>
<rect x="488.1" y="20.00" width="5.8" height="5.6" fill="#9c9c9c"/>
<path d="M485.8 28.45 l2 -1.4 v2.8 Z M496.1 28.45 l-2 -1.4 v2.8 Z" fill="#a0a0a0"/>
<circle cx="491.0" cy="34.10" r="3.0" fill="#9c9c9c"/>
<path d="M485.8 39.55 l2 -1.4 v2.8 Z M496.1 39.55 l-2 -1.4 v2.8 Z" fill="#a0a0a0"/>
<circle cx="491.0" cy="45.00" r="3.0" fill="#9c9c9c"/>
<path d="M485.8 50.90 l2 -1.4 v2.8 Z M496.1 50.90 l-2 -1.4 v2.8 Z" fill="#a0a0a0"/>
<rect x="488.1" y="54.00" width="5.8" height="5.6" fill="#9c9c9c"/>
<path d="M485.8 62.50 l2 -1.4 v2.8 Z M496.1 62.50 l-2 -1.4 v2.8 Z" fill="#a0a0a0"/>
<circle cx="491.0" cy="68.20" r="3.0" fill="#9c9c9c"/>
<path d="M498.2 68.2 l2 -1.5 v3 Z" fill="#fff" stroke="#a0a0a0" stroke-width="0.7"/>
</g>
<g transform="translate(0 392.3)">
<path d="M477.7 1.4 H501.7 V18.5 H512.2 V61.6 H501.7 V78.2 H477.7 Z" fill="#fff" stroke="none"/>
<path d="M477.7 1.4 V78.2 M479.6 2.8 V25.1 H481.6 V31.4 H479.6 V48 H481.6 V54.3 H479.6 V76.8" fill="none" stroke="#a0a0a0" stroke-width="1.0"/>
<path d="M512.2 18.5 V32.2 H509.9 V47.4 H512.2 V61.6 M510 20 V30.6 H507.7 V49 H510 V60.2" fill="none" stroke="#a0a0a0" stroke-width="1.0"/>
<path d="M477.4 1.4 H501.7 V18.5 H512.7" fill="none" stroke="#a0a0a0" stroke-width="2.8" stroke-linejoin="round"/>
<path d="M512.7 61.2 H501.7 V78.2 H477.4" fill="none" stroke="#a0a0a0" stroke-width="2.8" stroke-linejoin="round"/>
<circle cx="478.2" cy="1.6" r="1.1" fill="#fff" stroke="#a0a0a0" stroke-width="0.8"/>
<circle cx="511.6" cy="19.4" r="1.1" fill="#fff" stroke="#a0a0a0" stroke-width="0.8"/>
<circle cx="511.6" cy="60.4" r="1.1" fill="#fff" stroke="#a0a0a0" stroke-width="0.8"/>
<path d="M479.6 25.1 H505.6 V54.3 H479.6" fill="none" stroke="#a0a0a0" stroke-width="0.9"/>
<rect x="485.1" y="4.8" width="11.7" height="69.6" fill="#fff" stroke="#a0a0a0" stroke-width="1.4"/>
<rect x="488.1" y="8.30" width="5.8" height="5.6" fill="#9c9c9c"/>
<path d="M485.8 16.95 l2 -1.4 v2.8 Z M496.1 16.95 l-2 -1.4 v2.8 Z" fill="#a0a0a0"/>
<circle cx="491.0" cy="22.80" r="3.0" fill="#9c9c9c"/>
<path d="M485.8 28.45 l2 -1.4 v2.8 Z M496.1 28.45 l-2 -1.4 v2.8 Z" fill="#a0a0a0"/>
<circle cx="491.0" cy="34.10" r="3.0" fill="#9c9c9c"/>
<path d="M485.8 39.55 l2 -1.4 v2.8 Z M496.1 39.55 l-2 -1.4 v2.8 Z" fill="#a0a0a0"/>
<rect x="488.1" y="42.20" width="5.8" height="5.6" fill="#9c9c9c"/>
<path d="M485.8 50.90 l2 -1.4 v2.8 Z M496.1 50.90 l-2 -1.4 v2.8 Z" fill="#a0a0a0"/>
<rect x="488.1" y="54.00" width="5.8" height="5.6" fill="#9c9c9c"/>
<path d="M485.8 62.50 l2 -1.4 v2.8 Z M496.1 62.50 l-2 -1.4 v2.8 Z" fill="#a0a0a0"/>
<circle cx="491.0" cy="68.20" r="3.0" fill="#9c9c9c"/>
<path d="M498.2 68.2 l2 -1.5 v3 Z" fill="#fff" stroke="#a0a0a0" stroke-width="0.7"/>
</g>
<g transform="translate(513.7 257.6) rotate(-90)"><text x="0" y="0" font-size="11.2" font-weight="bold" fill="#231815" stroke="#231815" stroke-width="0.45" text-anchor="middle" textLength="43" lengthAdjust="spacingAndGlyphs">POWER C1</text></g>
<g transform="translate(514.0 482.0) rotate(-90)"><text x="0" y="0" font-size="11.2" font-weight="bold" fill="#231815" stroke="#231815" stroke-width="0.45" text-anchor="middle" textLength="43.4" lengthAdjust="spacingAndGlyphs">POWER C2</text></g>
<path d="M480.4 369.4 L497.2 361.2 V366.3 H509.5 V372.6 H497.2 V377.9 Z" fill="#fff" stroke="#a8a8a8" stroke-width="1.2" />
<rect x="562.5" y="235.5" width="120" height="120" rx="7" ry="7" fill="none" stroke="#000" stroke-width="1.3"/>
<circle cx="593.4" cy="250.4" r="5.55" fill="none" stroke="#000000" stroke-width="1.15"/>
<circle cx="593.4" cy="340.6" r="5.55" fill="none" stroke="#000000" stroke-width="1.15"/>
<circle cx="613.1" cy="250.4" r="5.55" fill="none" stroke="#ff0000" stroke-width="1.15"/>
<circle cx="613.1" cy="340.6" r="5.55" fill="none" stroke="#ff0000" stroke-width="1.15"/>
<circle cx="632.0" cy="250.4" r="5.55" fill="none" stroke="#ff0000" stroke-width="1.15"/>
<circle cx="632.0" cy="340.6" r="5.55" fill="none" stroke="#ff0000" stroke-width="1.15"/>
<circle cx="651.5" cy="250.4" r="5.55" fill="none" stroke="#000000" stroke-width="1.15"/>
<circle cx="651.5" cy="340.6" r="5.55" fill="none" stroke="#000000" stroke-width="1.15"/>
<circle cx="577.5" cy="266.6" r="5.55" fill="none" stroke="#000000" stroke-width="1.15"/>
<circle cx="667.5" cy="266.6" r="5.55" fill="none" stroke="#000000" stroke-width="1.15"/>
<circle cx="577.5" cy="285.8" r="5.55" fill="none" stroke="#ff0000" stroke-width="1.15"/>
<circle cx="667.5" cy="285.8" r="5.55" fill="none" stroke="#ff0000" stroke-width="1.15"/>
<circle cx="577.5" cy="305" r="5.55" fill="none" stroke="#ff0000" stroke-width="1.15"/>
<circle cx="667.5" cy="305" r="5.55" fill="none" stroke="#ff0000" stroke-width="1.15"/>
<circle cx="577.5" cy="324.3" r="5.55" fill="none" stroke="#000000" stroke-width="1.15"/>
<circle cx="667.5" cy="324.3" r="5.55" fill="none" stroke="#000000" stroke-width="1.15"/>
<text x="688" y="334.8" font-size="11" fill="#000" stroke="#000" stroke-width="0.7" textLength="88.4" lengthAdjust="spacingAndGlyphs">Distribution Board</text>
<rect x="590.85" y="41.00" width="85.15" height="5.80" fill="#000000"/>
<rect x="590.85" y="41.00" width="5.10" height="210.00" fill="#000000"/>
<rect x="610.10" y="71.10" width="65.90" height="5.80" fill="#ff0000"/>
<rect x="610.10" y="71.10" width="6.00" height="179.90" fill="#ff0000"/>
<rect x="629.00" y="126.90" width="47.00" height="5.20" fill="#ff0000"/>
<rect x="629.00" y="126.90" width="6.00" height="124.10" fill="#ff0000"/>
<rect x="648.95" y="157.00" width="27.05" height="5.80" fill="#000000"/>
<rect x="648.95" y="157.00" width="5.10" height="94.00" fill="#000000"/>
<rect x="649.00" y="340.00" width="5.00" height="93.60" fill="#000000"/>
<rect x="649.00" y="428.00" width="27.00" height="5.60" fill="#000000"/>
<rect x="629.00" y="340.00" width="6.00" height="123.90" fill="#ff0000"/>
<rect x="629.00" y="458.10" width="47.00" height="5.80" fill="#ff0000"/>
<rect x="610.10" y="340.00" width="6.00" height="180.00" fill="#ff0000"/>
<rect x="610.10" y="514.00" width="65.90" height="6.00" fill="#ff0000"/>
<rect x="590.85" y="340.00" width="5.10" height="209.95" fill="#000000"/>
<rect x="590.85" y="544.05" width="85.15" height="5.90" fill="#000000"/>
<rect x="489.00" y="471.00" width="5.80" height="127.60" fill="#000000"/>
<rect x="489.00" y="593.00" width="372.90" height="5.60" fill="#000000"/>
<rect x="856.10" y="593.00" width="5.80" height="43.00" fill="#000000"/>
<rect x="667.50" y="302.20" width="214.60" height="5.60" fill="#ff0000"/>
<rect x="877.10" y="302.20" width="5.00" height="274.80" fill="#ff0000"/>
<rect x="879.00" y="590.00" width="3.60" height="190.00" fill="#ff0000"/>
<rect x="667.50" y="264.10" width="219.40" height="5.00" fill="#000000"/>
<rect x="881.30" y="264.10" width="5.60" height="312.90" fill="#000000"/>
<rect x="882.40" y="590.00" width="4.60" height="190.00" fill="#000000"/>
<circle cx="593.4" cy="250.8" r="2.55" fill="#000000"/>
<circle cx="593.4" cy="340.2" r="2.55" fill="#000000"/>
<circle cx="613.1" cy="250.8" r="3.0" fill="#ff0000"/>
<circle cx="613.1" cy="340.2" r="3.0" fill="#ff0000"/>
<circle cx="632.0" cy="250.8" r="3.0" fill="#ff0000"/>
<circle cx="632.0" cy="340.2" r="3.0" fill="#ff0000"/>
<circle cx="651.5" cy="250.8" r="2.55" fill="#000000"/>
<circle cx="651.5" cy="340.2" r="2.55" fill="#000000"/>
<circle cx="667.7" cy="266.6" r="2.6" fill="#000"/>
<circle cx="667.7" cy="305" r="2.8" fill="#f00"/>
<rect x="426.85" y="51.05" width="249.15" height="2.80" fill="#000000"/>
<rect x="426.85" y="51.05" width="2.10" height="210.45" fill="#000000"/>
<rect x="441.90" y="57.95" width="234.10" height="2.10" fill="#ff0000"/>
<rect x="441.90" y="57.95" width="2.10" height="203.55" fill="#ff0000"/>
<rect x="456.85" y="64.00" width="219.15" height="3.00" fill="#ffff00"/>
<rect x="456.85" y="64.00" width="2.10" height="197.50" fill="#ffff00"/>
<rect x="430.05" y="136.95" width="245.95" height="1.90" fill="#000000"/>
<rect x="430.05" y="136.95" width="2.10" height="139.65" fill="#000000"/>
<rect x="444.95" y="142.95" width="231.05" height="2.10" fill="#ff0000"/>
<rect x="444.95" y="142.95" width="2.10" height="133.65" fill="#ff0000"/>
<rect x="459.95" y="149.00" width="216.05" height="3.00" fill="#ffff00"/>
<rect x="459.95" y="149.00" width="2.10" height="127.60" fill="#ffff00"/>
<rect x="430.05" y="289.80" width="2.10" height="165.05" fill="#000000"/>
<rect x="430.05" y="451.95" width="245.95" height="2.90" fill="#000000"/>
<rect x="444.95" y="289.80" width="2.10" height="158.25" fill="#ff0000"/>
<rect x="444.95" y="445.95" width="231.05" height="2.10" fill="#ff0000"/>
<rect x="459.95" y="289.80" width="2.10" height="152.10" fill="#ffff00"/>
<rect x="459.95" y="438.90" width="216.05" height="3.00" fill="#ffff00"/>
<rect x="426.85" y="304.20" width="2.10" height="235.65" fill="#000000"/>
<rect x="426.85" y="537.95" width="249.15" height="1.90" fill="#000000"/>
<rect x="441.90" y="304.20" width="2.10" height="229.70" fill="#ff0000"/>
<rect x="441.90" y="530.90" width="234.10" height="3.00" fill="#ff0000"/>
<rect x="456.85" y="304.20" width="2.10" height="222.85" fill="#ffff00"/>
<rect x="456.85" y="524.95" width="219.15" height="2.10" fill="#ffff00"/>
<rect x="674.5" y="33.5" width="85" height="51" rx="5" ry="5" fill="#fff" stroke="#000" stroke-width="1.3"/>
<text x="715.5" y="64.1" font-size="11" text-anchor="middle" fill="#000" stroke="#000" stroke-width="0.3" textLength="22.6" lengthAdjust="spacingAndGlyphs">ESC</text>
<path d="M759.5 58.9 H783" fill="none" stroke="#000000" stroke-width="6" stroke-linejoin="miter" />
<rect x="674.5" y="118.7" width="85" height="51" rx="5" ry="5" fill="#fff" stroke="#000" stroke-width="1.3"/>
<text x="715.5" y="149.3" font-size="11" text-anchor="middle" fill="#000" stroke="#000" stroke-width="0.3" textLength="22.6" lengthAdjust="spacingAndGlyphs">ESC</text>
<path d="M759.5 144.1 H783" fill="none" stroke="#000000" stroke-width="6" stroke-linejoin="miter" />
<rect x="674.5" y="421.7" width="85" height="51" rx="5" ry="5" fill="#fff" stroke="#000" stroke-width="1.3"/>
<text x="715.5" y="452.3" font-size="11" text-anchor="middle" fill="#000" stroke="#000" stroke-width="0.3" textLength="22.6" lengthAdjust="spacingAndGlyphs">ESC</text>
<path d="M759.5 447.09999999999997 H783" fill="none" stroke="#000000" stroke-width="6" stroke-linejoin="miter" />
<rect x="674.5" y="506.7" width="85" height="51" rx="5" ry="5" fill="#fff" stroke="#000" stroke-width="1.3"/>
<text x="715.5" y="537.3" font-size="11" text-anchor="middle" fill="#000" stroke="#000" stroke-width="0.3" textLength="22.6" lengthAdjust="spacingAndGlyphs">ESC</text>
<path d="M759.5 532.1 H783" fill="none" stroke="#000000" stroke-width="6" stroke-linejoin="miter" />
<circle cx="820.6" cy="57.2" r="38" fill="#fff" stroke="#000" stroke-width="1.3"/>
<path d="M844.40 57.10 A24.1 24.1 0 1 0 812.85 80.02" fill="none" stroke="#000" stroke-width="1.1"/>
<path d="M820.40 80.90 L813.00 74.60 L813.40 79.70 L811.10 84.80 Z" fill="#000"/>
<text x="820.4" y="55.7" font-size="11" text-anchor="middle" fill="#000" stroke="#000" stroke-width="0.35" textLength="28.9" lengthAdjust="spacingAndGlyphs">Motor</text>
<text x="820.2" y="68.3" font-size="11" text-anchor="middle" fill="#000" stroke="#000" stroke-width="0.35">CW</text>
<circle cx="820.6" cy="142.3" r="38" fill="#fff" stroke="#000" stroke-width="1.3"/>
<path d="M844.40 142.20 A24.1 24.1 0 1 0 812.85 165.12" fill="none" stroke="#000" stroke-width="1.1"/>
<path d="M820.40 166.00 L813.00 159.70 L813.40 164.80 L811.10 169.90 Z" fill="#000"/>
<text x="820.4" y="140.8" font-size="11" text-anchor="middle" fill="#000" stroke="#000" stroke-width="0.35" textLength="28.9" lengthAdjust="spacingAndGlyphs">Motor</text>
<text x="820.2" y="153.4" font-size="11" text-anchor="middle" fill="#000" stroke="#000" stroke-width="0.35">CW</text>
<circle cx="820.6" cy="445.2" r="38" fill="#fff" stroke="#000" stroke-width="1.3"/>
<path d="M820.72 469.20 A24.1 24.1 0 1 1 843.22 437.65" fill="none" stroke="#000" stroke-width="1.1"/>
<path d="M844.30 445.10 L838.20 437.80 L843.10 437.90 L848.10 436.20 Z" fill="#000"/>
<text x="820.4" y="443.7" font-size="11" text-anchor="middle" fill="#000" stroke="#000" stroke-width="0.35" textLength="28.9" lengthAdjust="spacingAndGlyphs">Motor</text>
<text x="820.2" y="457.2" font-size="11" text-anchor="middle" fill="#000" stroke="#000" stroke-width="0.35">CW</text>
<circle cx="820.6" cy="530.2" r="38" fill="#fff" stroke="#000" stroke-width="1.3"/>
<path d="M820.72 554.20 A24.1 24.1 0 1 1 843.22 522.65" fill="none" stroke="#000" stroke-width="1.1"/>
<path d="M844.30 530.10 L838.20 522.80 L843.10 522.90 L848.10 521.20 Z" fill="#000"/>
<text x="820.4" y="528.7" font-size="11" text-anchor="middle" fill="#000" stroke="#000" stroke-width="0.35" textLength="28.9" lengthAdjust="spacingAndGlyphs">Motor</text>
<text x="820.2" y="542.2" font-size="11" text-anchor="middle" fill="#000" stroke="#000" stroke-width="0.35">CW</text>
<rect x="848" y="634" width="38.5" height="43.5" rx="3" ry="3" fill="#fff" stroke="#000" stroke-width="1.2"/>
<text x="787.1" y="662.8" font-size="11" fill="#000" stroke="#000" stroke-width="0.7" textLength="51.9" lengthAdjust="spacingAndGlyphs">CAN PMU</text>
<rect x="876.3" y="575.4" width="13.2" height="11.6" fill="#ffc800" stroke="#000" stroke-width="1.3"/>
<rect x="875.4" y="587.0" width="14.1" height="5.6" fill="#ffc800" stroke="#000" stroke-width="1.3"/>
<path d="M879.4 572 V577.4" fill="none" stroke="#ff0000" stroke-width="4.2" stroke-linejoin="miter" stroke-linecap="round"/>
<path d="M884.2 572 V577.4" fill="none" stroke="#000000" stroke-width="5.2" stroke-linejoin="miter" stroke-linecap="round"/>
<rect x="876.3" y="727.4" width="13.2" height="11.6" fill="#ffc800" stroke="#000" stroke-width="1.3"/>
<rect x="875.4" y="721.4" width="14.1" height="6" fill="#ffc800" stroke="#000" stroke-width="1.3"/>
<rect x="765.1" y="779.6" width="126.4" height="149.6" rx="7" ry="7" fill="#fff" stroke="#000" stroke-width="1.3"/>
<text x="828.2" y="855" font-size="11" text-anchor="middle" fill="#000" stroke="#000" stroke-width="0.25" textLength="35.8" lengthAdjust="spacingAndGlyphs">Battery</text>
</svg></body></html>
